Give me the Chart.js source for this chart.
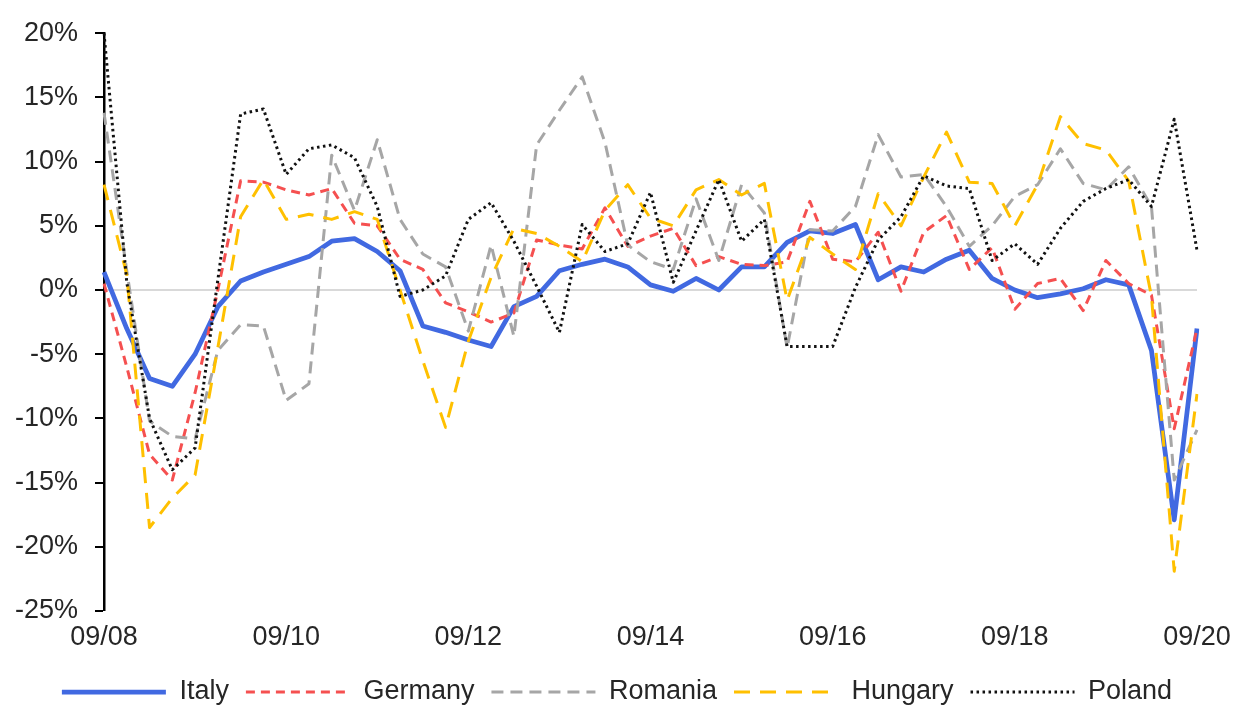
<!DOCTYPE html>
<html>
<head>
<meta charset="utf-8">
<script src="https://cdn.jsdelivr.net/npm/chart.js@4"></script>
<style>
  html, body { margin: 0; padding: 0; background: #ffffff; }
  #wrap { position: relative; width: 1234px; height: 711px; }
</style>
</head>
<body>
<div id="wrap"><canvas id="c"></canvas></div>
<script>
const categories = ["09/08","12/08","03/09","06/09","09/09","12/09","03/10","06/10","09/10","12/10","03/11","06/11","09/11","12/11","03/12","06/12","09/12","12/12","03/13","06/13","09/13","12/13","03/14","06/14","09/14","12/14","03/15","06/15","09/15","12/15","03/16","06/16","09/16","12/16","03/17","06/17","09/17","12/17","03/18","06/18","09/18","12/18","03/19","06/19","09/19","12/19","03/20","06/20","09/20"];

const italy   = [1.4,-3.0,-6.9,-7.5,-5.0,-1.3,0.7,1.4,2.0,2.6,3.8,4.0,3.0,1.5,-2.8,-3.3,-3.9,-4.4,-1.3,-0.5,1.5,2.0,2.4,1.8,0.4,-0.1,0.9,0.0,1.8,1.8,3.7,4.6,4.4,5.1,0.8,1.8,1.4,2.4,3.1,0.9,0.0,-0.6,-0.3,0.1,0.8,0.4,-4.7,-17.9,-3.0];
const germany = [0.5,-6.0,-12.8,-14.8,-8.0,0.0,8.5,8.4,7.8,7.4,7.9,5.2,5.0,2.4,1.6,-1.0,-1.7,-2.5,-1.8,3.9,3.5,3.2,6.4,3.4,4.2,4.8,1.9,2.6,2.0,1.9,2.2,6.9,2.4,2.2,4.5,-0.1,4.5,5.8,1.6,3.3,-1.5,0.5,0.9,-1.6,2.3,0.5,-0.4,-10.8,-3.0];
const romania = [13.8,1.5,-10.2,-11.4,-11.6,-4.7,-2.7,-2.8,-8.6,-7.3,10.5,6.2,11.7,5.5,2.8,1.8,-3.2,3.5,-3.6,11.3,14.0,16.6,11.5,3.5,2.2,1.6,7.1,2.3,8.2,6.0,-4.5,4.7,4.6,6.5,12.1,8.8,9.0,6.5,3.4,5.0,7.3,8.2,11.0,8.3,7.8,9.6,6.5,-14.8,-10.9];
const hungary = [8.2,1.2,-18.5,-16.2,-14.4,-4.5,5.7,8.6,5.5,5.9,5.5,6.1,5.5,0.0,-5.5,-10.7,-4.0,1.0,4.8,4.4,3.4,2.2,6.2,8.2,5.6,5.0,7.8,8.6,7.4,8.3,-0.8,4.1,2.8,1.6,7.5,5.0,8.8,12.3,8.4,8.3,5.0,8.2,13.5,11.4,10.9,8.5,-0.5,-21.9,-8.1];
const poland  = [20.0,0.6,-10.0,-14.0,-12.3,0.8,13.7,14.1,9.0,11.0,11.3,10.3,6.5,-0.5,0.0,1.1,5.5,6.8,3.8,0.3,-3.3,5.1,3.0,3.6,7.6,0.6,4.6,8.6,3.8,5.5,-4.4,-4.4,-4.4,0.2,3.9,5.7,8.9,8.1,7.9,2.3,3.6,2.0,4.8,6.9,7.9,8.6,6.5,13.3,3.1];

const seriesNames = ["Italy","Germany","Romania","Hungary","Poland"];
const yTicks = [-25,-20,-15,-10,-5,0,5,10,15,20];
const labelEvery = 8;

const FONT = { family: "'Liberation Sans', Arial, sans-serif", size: 27 };
const TEXT = '#262626';

function ds(label, data, color, width, dash, order) {
  return {
    label, data,
    borderColor: color, backgroundColor: color,
    borderWidth: width, borderDash: dash,
    borderCapStyle: 'butt', borderJoinStyle: 'round',
    pointRadius: 0, pointHoverRadius: 0, pointStyle: 'line',
    tension: 0, fill: false, order
  };
}

new Chart(document.getElementById('c'), {
  type: 'line',
  data: {
    labels: categories,
    datasets: [
      ds(seriesNames[0], italy,   '#4169E1', 4.75, [],      5),
      ds(seriesNames[1], germany, '#F55050', 3, [9, 6], 4),
      ds(seriesNames[2], romania, '#A6A6A6', 3, [12, 7], 3),
      ds(seriesNames[3], hungary, '#FFC000', 3, [16, 10], 2),
      ds(seriesNames[4], poland,  '#111111', 3, [2.5, 3.5], 1)
    ]
  },
  options: {
    responsive: true,
    maintainAspectRatio: false,
    animation: false,
    events: [],
    layout: { padding: { top: 24, left: 0, right: 0, bottom: -4.5 } },
    scales: {
      x: {
        type: 'category',
        offset: false,
        grid: { display: false, drawTicks: false },
        border: { display: false },
        ticks: {
          autoSkip: false, maxRotation: 0, minRotation: 0,
          padding: 10, color: TEXT, font: FONT,
          callback: function(v, i) { return i % labelEvery === 0 ? categories[i] : ''; }
        },
        afterFit: function(s) { s.height = 50.5; s.paddingLeft = 0; s.paddingRight = 0; }
      },
      y: {
        position: 'left',
        min: yTicks[0], max: yTicks[yTicks.length - 1],
        afterBuildTicks: function(s) { s.ticks = yTicks.map(v => ({ value: v })); },
        grid: {
          drawOnChartArea: true,
          drawTicks: true,
          tickLength: 9,
          tickWidth: 2,
          tickColor: '#000000',
          color: ctx => (ctx.tick && ctx.tick.value === 0) ? '#D9D9D9' : 'rgba(0,0,0,0)',
          lineWidth: ctx => (ctx.tick && ctx.tick.value === 0) ? 2 : 0
        },
        border: { display: true, color: '#000000', width: 2.5 },
        ticks: {
          padding: 17, color: TEXT, font: FONT,
          callback: v => v + '%'
        },
        afterFit: function(s) { s.width = 104; }
      },
      yRight: {
        position: 'right',
        display: true,
        grid: { display: false, drawTicks: false },
        border: { display: false },
        ticks: { display: false },
        afterFit: function(s) { s.width = 37; }
      }
    },
    plugins: {
      tooltip: { enabled: false },
      title: { display: false },
      legend: {
        display: true,
        position: 'bottom',
        align: 'center',
        labels: {
          usePointStyle: true,
          pointStyle: 'line',
          pointStyleWidth: 104,
          boxHeight: 27,
          padding: 17,
          color: TEXT,
          font: FONT,
          sort: (a, b) => a.datasetIndex - b.datasetIndex,
          generateLabels: function(chart) {
            const items = Chart.defaults.plugins.legend.labels.generateLabels(chart);
            return items.map(it => {
              const d = chart.data.datasets[it.datasetIndex];
              it.lineDash = d.borderDash;
              it.lineWidth = d.borderWidth;
              it.strokeStyle = d.borderColor;
              it.fillStyle = d.borderColor;
              it.lineCap = 'butt';
              it.pointStyle = 'line';
              return it;
            });
          }
        }
      }
    }
  }
});
</script>
</body>
</html>
